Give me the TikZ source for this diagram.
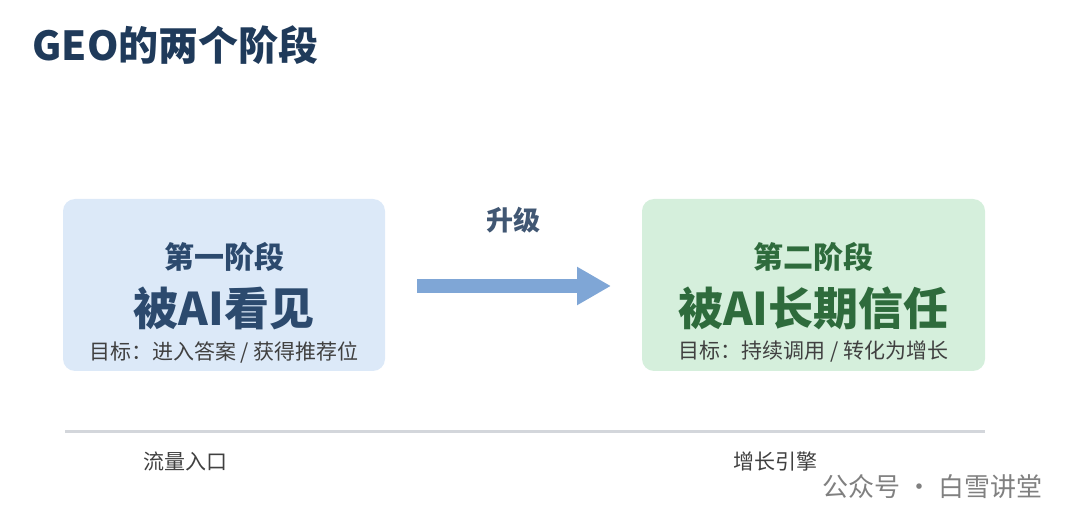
\documentclass[tikz,border=0pt]{standalone}
\usepackage{fontspec}
\setmainfont{Noto Sans CJK SC}
\usetikzlibrary{arrows.meta}
\definecolor{navy}{HTML}{1F3A5A}
\definecolor{bluefill}{HTML}{DCE9F8}
\definecolor{bluetext}{HTML}{2C4A6E}
\definecolor{greenfill}{HTML}{D5EFDC}
\definecolor{greentext}{HTML}{2E6B3C}
\definecolor{arrowblue}{HTML}{7FA6D6}
\definecolor{rulegray}{HTML}{D3D6DB}
\begin{document}
\begin{tikzpicture}[x=1pt,y=-1pt,
    stagebox/.style={rectangle, rounded corners=12pt, minimum width=#1, minimum height=172pt, inner sep=0pt},
    stagehead/.style={font=\bfseries\fontsize{30}{30}\selectfont},
    stagename/.style={font=\bfseries\fontsize{45}{45}\selectfont},
    stagegoal/.style={font=\fontsize{21}{21}\selectfont, text=black!75},
    footlabel/.style={font=\fontsize{21}{21}\selectfont, text=black!75}
]
\useasboundingbox (0,0) rectangle (1080,529);

% Title
\node[anchor=west, text=navy, font=\bfseries\fontsize{40}{40}\selectfont] (title) at (29,45) {GEO的两个阶段};

% Stage boxes
\node[stagebox=322pt, fill=bluefill] (one) at (224,285) {};
\node[stagebox=343pt, fill=greenfill] (two) at (813.5,285) {};

\node[stagehead, text=bluetext] (onehead) at (224,257) {第一阶段};
\node[stagename, text=bluetext] (onename) at (224,308) {被AI看见};
\node[stagegoal] (onegoal) at (224,352) {目标：进入答案 / 获得推荐位};

\node[stagehead, text=greentext] (twohead) at (813.5,257) {第二阶段};
\node[stagename, text=greentext] (twoname) at (813.5,308) {被AI长期信任};
\node[stagegoal] (twogoal) at (813.5,352) {目标：持续调用 / 转化为增长};

% Upgrade arrow
\coordinate (arrowstart) at (417,286);
\coordinate (arrowend) at (611,286);
\draw[arrowblue, line width=14pt, -{Triangle[length=34pt, width=36pt]}] (arrowstart) -- (arrowend);
\node[text=navy!85, font=\bfseries\fontsize{27}{27}\selectfont] (upgrade) at (513,220) {升级};

% Bottom rule
\coordinate (rulestart) at (65,432);
\coordinate (ruleend) at (985,432);
\draw[rulegray, line width=3pt] (rulestart) -- (ruleend);
\node[footlabel] (entry) at (185,461) {流量入口};
\node[footlabel] (engine) at (775,461) {增长引擎};

% Watermark
\node[anchor=east, text=black!50, font=\fontsize{26}{26}\selectfont] (mark) at (1046,487) {公众号 · 白雪讲堂};
\end{tikzpicture}
\end{document}
